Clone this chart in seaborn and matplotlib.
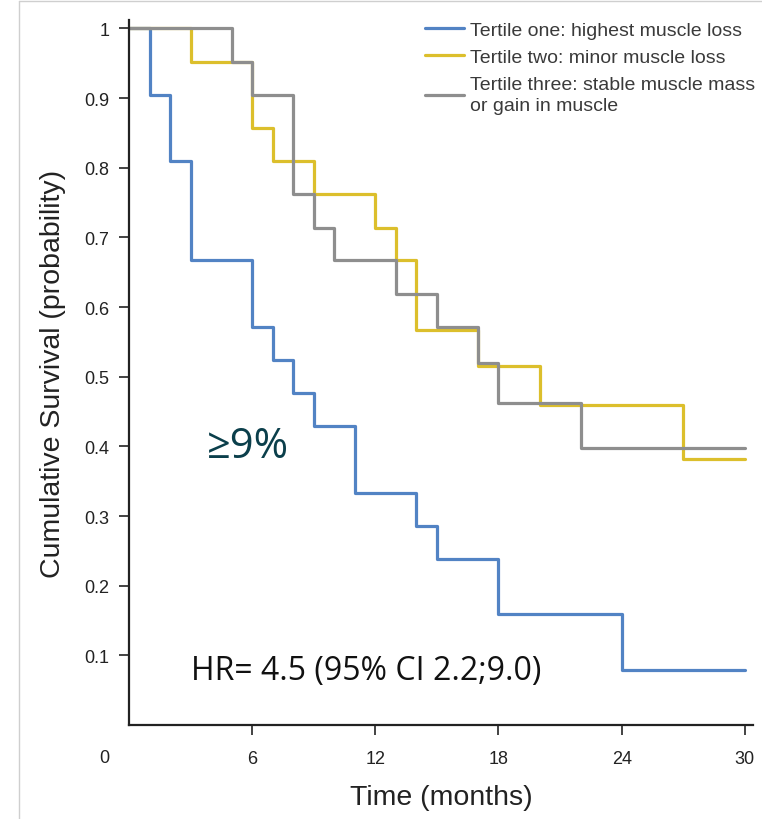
import matplotlib
matplotlib.use("Agg")
import matplotlib.pyplot as plt
from matplotlib.lines import Line2D
import pandas as pd
import seaborn as sns

# survival curves (time in months, survival probability)
blue_t = [0, 1, 2, 3, 6, 7, 8, 9, 11, 14, 15, 18, 24, 30]
blue_s = [1, 0.905, 0.81, 0.667, 0.571, 0.524, 0.476, 0.429, 0.333, 0.286, 0.238, 0.159, 0.079, 0.079]
yellow_t = [0, 3, 6, 7, 9, 12, 13, 14, 17, 20, 27, 30]
yellow_s = [1, 0.952, 0.857, 0.81, 0.762, 0.714, 0.667, 0.567, 0.516, 0.46, 0.382, 0.382]
gray_t = [0, 5, 6, 8, 9, 10, 13, 15, 17, 18, 22, 30]
gray_s = [1, 0.952, 0.905, 0.762, 0.714, 0.667, 0.619, 0.571, 0.519, 0.462, 0.397, 0.397]

labels = ["Tertile one: highest muscle loss",
          "Tertile two: minor muscle loss",
          "Tertile three: stable muscle mass\nor gain in muscle"]
colors = ["#5283c4", "#dcbf2c", "#8e8e8e"]

x_ticks = [6, 12, 18, 24, 30]
y_ticks = [0.1, 0.2, 0.3, 0.4, 0.5, 0.6, 0.7, 0.8, 0.9, 1]
y_ticklabels = ["0.1", "0.2", "0.3", "0.4", "0.5", "0.6", "0.7", "0.8", "0.9", "1"]

df = pd.concat([
    pd.DataFrame({"time": blue_t, "surv": blue_s, "group": labels[0]}),
    pd.DataFrame({"time": yellow_t, "surv": yellow_s, "group": labels[1]}),
    pd.DataFrame({"time": gray_t, "surv": gray_s, "group": labels[2]}),
])

sns.set_style("ticks")
plt.rcParams['font.family'] = ['Liberation Sans', 'DejaVu Sans']

W, H = 762, 820
fig = plt.figure(figsize=(W / 100, H / 100), dpi=100)
ax = fig.add_axes([129 / W, 1 - 726 / H, (753 - 129) / W, (726 - 21) / H])

sns.lineplot(data=df, x="time", y="surv", hue="group", hue_order=labels,
             palette=colors, estimator=None, sort=False,
             drawstyle="steps-post", linewidth=2.3, ax=ax)

ax.set_xlim(0, 30.4)
ax.set_ylim(0, 1.012)
ax.set_xticks(x_ticks)
ax.set_xticklabels([str(t) for t in x_ticks])
ax.set_yticks(y_ticks)
ax.set_yticklabels(y_ticklabels)
ax.tick_params(axis="both", labelsize=13, length=7, width=1.2, color="#222222",
               labelcolor="#222222")
ax.tick_params(axis="x", pad=11)
ax.tick_params(axis="y", pad=7)
for side in ["top", "right"]:
    ax.spines[side].set_visible(False)
for side in ["left", "bottom"]:
    ax.spines[side].set_linewidth(1.6)
    ax.spines[side].set_color("#222222")

# corner "0"
ax.text(-1.2, -0.047, "0", ha="center", va="center", fontsize=13,
        color="#222222", clip_on=False)

narrow = ['Liberation Sans Narrow', 'Liberation Sans', 'DejaVu Sans']
ax.set_xlabel("Time (months)", fontsize=20.5, family=narrow, color="#222222", labelpad=12)
ax.set_ylabel("Cumulative Survival (probability)", fontsize=20.5, family=narrow,
              color="#222222", labelpad=13)

ax.text(3.8, 0.40, "\u22659%", fontsize=30, color="#0b3f4b",
        family=['Open Sans', 'DejaVu Sans'], ha="left", va="center")
ax.text(3.0, 0.078, "HR= 4.5 (95% CI 2.2;9.0)", fontsize=23, color="#111111",
        family=['Open Sans', 'DejaVu Sans'], ha="left", va="center")

handles, hl = ax.get_legend_handles_labels()
leg = ax.legend(handles, hl, loc="upper left", bbox_to_anchor=(425 / W, 1 - 22 / H),
                bbox_transform=fig.transFigure, frameon=False, fontsize=14,
                handlelength=2.0, handletextpad=0.3, labelspacing=0.5,
                borderpad=0, borderaxespad=0)
for t in leg.get_texts():
    t.set_color("#3a3a3a")
    t.set_linespacing(1.35)

# thin light frame of the source picture (left and top edges)
fig.add_artist(Line2D([19 / W, 19 / W], [0, 1 - 2 / H], color="#cfcfcf", lw=1))
fig.add_artist(Line2D([19 / W, 1], [1 - 2 / H, 1 - 2 / H], color="#cfcfcf", lw=1))

fig.savefig("out.png", dpi=100)
